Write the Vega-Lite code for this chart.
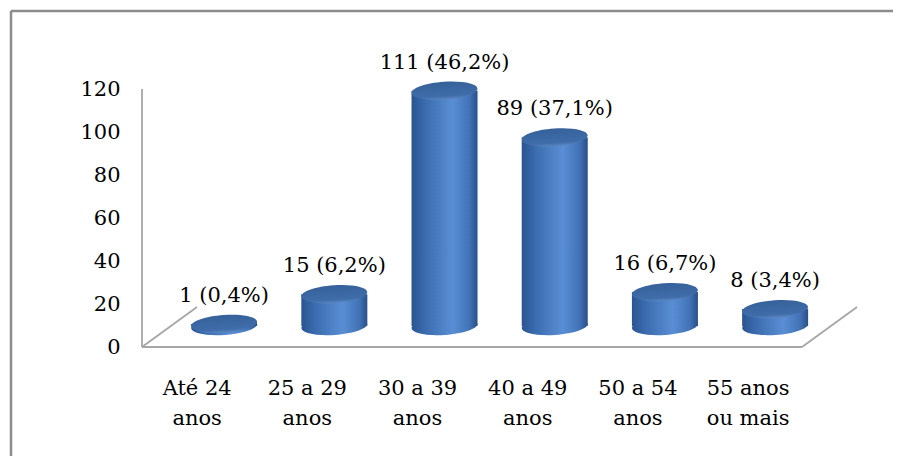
{
  "$schema": "https://vega.github.io/schema/vega-lite/v6.json",
  "width": 881.6,
  "height": 445,
  "padding": {"left": 11, "top": 11, "right": 0, "bottom": 0},
  "autosize": {"type": "none"},
  "background": "white",
  "config": {
    "view": {"stroke": null},
    "font": "DejaVu Serif"
  },
  "data": {
    "values": [
      {"faixa": "Até 24 anos", "n": 1, "pct": 0.4},
      {"faixa": "25 a 29 anos", "n": 15, "pct": 6.2},
      {"faixa": "30 a 39 anos", "n": 111, "pct": 46.2},
      {"faixa": "40 a 49 anos", "n": 89, "pct": 37.1},
      {"faixa": "50 a 54 anos", "n": 16, "pct": 6.7},
      {"faixa": "55 anos ou mais", "n": 8, "pct": 3.4}
    ]
  },
  "resolve": {
    "scale": {"x": "independent", "y": "independent"},
    "axis": {"x": "independent", "y": "independent"}
  },
  "layer": [
    {
      "data": {"values": [{}]},
      "layer": [
        {
          "mark": {"type": "rule", "color": "#8c8c8c", "strokeWidth": 2.5},
          "encoding": {
            "x": {"datum": -1.691, "type": "quantitative", "scale": {"domain": [-1.691, 6.3236], "nice": false, "zero": false}, "axis": null},
            "y": {"datum": -50.7, "type": "quantitative", "scale": {"domain": [-50.7, 156.3], "nice": false, "zero": false},
              "axis": {"orient": "left", "offset": -131, "domain": false, "ticks": false, "grid": false,
                "values": [0, 20, 40, 60, 80, 100, 120], "labelPadding": 22, "labelFontSize": 21,
                "labelFont": "DejaVu Serif", "labelColor": "#000000", "title": null}},
            "y2": {"datum": 156.3}
          }
        },
        {
          "mark": {"type": "rule", "color": "#8c8c8c", "strokeWidth": 2.5},
          "encoding": {
            "x": {"datum": -1.691, "type": "quantitative", "scale": {"domain": [-1.691, 6.3236], "nice": false, "zero": false}, "axis": null},
            "x2": {"datum": 6.6},
            "y": {"datum": 156.3, "type": "quantitative", "scale": {"domain": [-50.7, 156.3], "nice": false, "zero": false}}
          }
        },
        {
          "mark": {"type": "rule", "color": "#a6a6a6", "strokeWidth": 1.8},
          "encoding": {
            "x": {"datum": -0.5, "type": "quantitative", "scale": {"domain": [-1.691, 6.3236], "nice": false, "zero": false}, "axis": null},
            "y": {"datum": 0, "type": "quantitative", "scale": {"domain": [-50.7, 156.3], "nice": false, "zero": false}},
            "y2": {"datum": 120}
          }
        },
        {
          "mark": {"type": "rule", "color": "#a6a6a6", "strokeWidth": 1.8},
          "encoding": {
            "x": {"datum": -0.5, "type": "quantitative", "scale": {"domain": [-1.691, 6.3236], "nice": false, "zero": false}, "axis": null},
            "x2": {"datum": 5.5},
            "y": {"datum": 0, "type": "quantitative", "scale": {"domain": [-50.7, 156.3], "nice": false, "zero": false}},
            "y2": {"datum": 0}
          }
        },
        {
          "mark": {"type": "rule", "color": "#a6a6a6", "strokeWidth": 1.8},
          "encoding": {
            "x": {"datum": -0.5, "type": "quantitative", "scale": {"domain": [-1.691, 6.3236], "nice": false, "zero": false}, "axis": null},
            "x2": {"datum": 0},
            "y": {"datum": 0, "type": "quantitative", "scale": {"domain": [-50.7, 156.3], "nice": false, "zero": false}},
            "y2": {"datum": 18.6}
          }
        },
        {
          "mark": {"type": "rule", "color": "#a6a6a6", "strokeWidth": 1.8},
          "encoding": {
            "x": {"datum": 5.5, "type": "quantitative", "scale": {"domain": [-1.691, 6.3236], "nice": false, "zero": false}, "axis": null},
            "x2": {"datum": 6},
            "y": {"datum": 0, "type": "quantitative", "scale": {"domain": [-50.7, 156.3], "nice": false, "zero": false}},
            "y2": {"datum": 18.6}
          }
        }
      ]
    },
    {
      "encoding": {
        "x": {
          "field": "faixa", "type": "nominal", "sort": null,
          "scale": {"type": "band", "paddingInner": 0, "paddingOuter": 1, "align": 0.717},
          "axis": {
            "orient": "bottom", "offset": -61, "domain": false, "ticks": false, "grid": false,
            "labelPadding": 0, "labelOffset": -27, "labelBaseline": "alphabetic", "labelLineHeight": 30,
            "labelFontSize": 21, "labelFont": "DejaVu Serif", "labelColor": "#000000",
            "labelAngle": 0, "labelOverlap": false, "labelLimit": 0, "title": null,
            "labelExpr": "datum.value == '55 anos ou mais' ? ['55 anos', 'ou mais'] : [replace(datum.value, ' anos', ''), 'anos']"
          }
        }
      },
      "layer": [
        {
          "mark": {
            "type": "point", "filled": true, "opacity": 1, "strokeWidth": 0, "size": 4356, "angle": -4,
            "shape": "M -1 0 A 1 0.27 0 1 1 1 0 A 1 0.27 0 1 1 -1 0 Z",
            "fill": {"gradient": "linear", "x1": 0, "y1": 0, "x2": 1, "y2": 0,
              "stops": [
                {"offset": 0, "color": "#2a5490"},
                {"offset": 0.2, "color": "#3a6bae"},
                {"offset": 0.62, "color": "#5a8ed4"},
                {"offset": 0.88, "color": "#4172b6"},
                {"offset": 1, "color": "#294f88"}
              ]}
          },
          "encoding": {
            "y": {"datum": 0, "type": "quantitative", "scale": {"domain": [-61.3, 148.6], "nice": false, "zero": false}, "axis": null}
          }
        },
        {
          "mark": {
            "type": "bar", "width": 66,
            "fill": {"gradient": "linear", "x1": 0, "y1": 0, "x2": 1, "y2": 0,
              "stops": [
                {"offset": 0, "color": "#2a5490"},
                {"offset": 0.2, "color": "#3a6bae"},
                {"offset": 0.62, "color": "#5a8ed4"},
                {"offset": 0.88, "color": "#4172b6"},
                {"offset": 1, "color": "#294f88"}
              ]}
          },
          "encoding": {
            "y": {"field": "n", "type": "quantitative", "scale": {"domain": [-61.3, 148.6], "nice": false, "zero": false}, "axis": null},
            "y2": {"datum": 0}
          }
        },
        {
          "mark": {
            "type": "point", "filled": true, "opacity": 1, "strokeWidth": 0, "size": 4356, "angle": -4,
            "shape": "M -1 0 A 1 0.27 0 1 1 1 0 A 1 0.27 0 1 1 -1 0 Z",
            "fill": {"gradient": "linear", "x1": 0, "y1": 0, "x2": 0, "y2": 1,
              "stops": [
                {"offset": 0, "color": "#36619a"},
                {"offset": 0.8, "color": "#3f6da9"},
                {"offset": 1, "color": "#5b87c2"}
              ]}
          },
          "encoding": {
            "y": {"field": "n", "type": "quantitative", "scale": {"domain": [-61.3, 148.6], "nice": false, "zero": false}, "axis": null}
          }
        },
        {
          "transform": [
            {"calculate": "datum.n + ' (' + replace(format(datum.pct, '.1f'), '.', ',') + '%)'", "as": "rotulo"}
          ],
          "mark": {"type": "text", "fontSize": 21, "dy": -22, "baseline": "alphabetic", "align": "center", "color": "#000000",
            "font": "DejaVu Serif"},
          "encoding": {
            "y": {"field": "n", "type": "quantitative", "scale": {"domain": [-61.3, 148.6], "nice": false, "zero": false}, "axis": null},
            "text": {"field": "rotulo"}
          }
        }
      ]
    }
  ]
}
